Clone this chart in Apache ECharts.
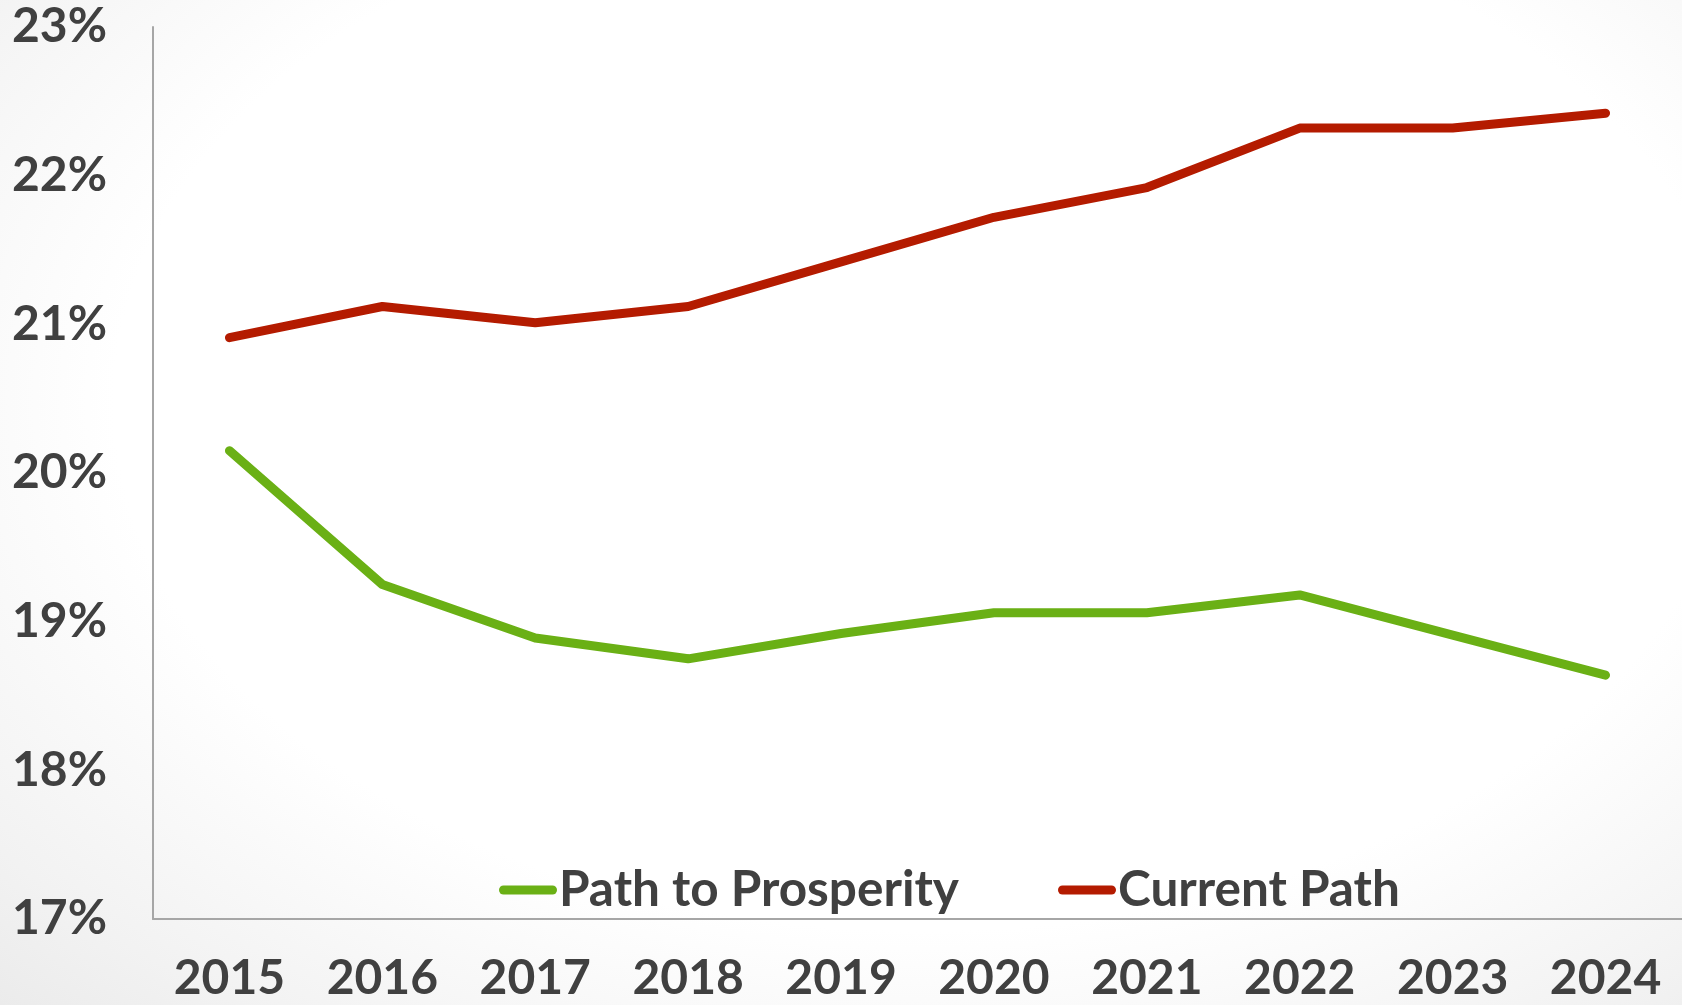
<!DOCTYPE html>
<html>
<head>
<meta charset="utf-8">
<script src="https://cdn.jsdelivr.net/npm/echarts@6/dist/echarts.min.js"></script>
<style>
  html, body { margin: 0; padding: 0; }
  body {
    width: 1682px; height: 1005px;
    background: radial-gradient(ellipse at 55% 40%, #ffffff 62%, #f2f2f2 88%, #ebebeb 100%);
  }
  #chart { width: 1682px; height: 1005px; }
</style>
</head>
<body>
<div id="chart"></div>
<script>
var years = ['2015', '2016', '2017', '2018', '2019', '2020', '2021', '2022', '2023', '2024'];
var prosperity = [20.15, 19.25, 18.89, 18.75, 18.92, 19.06, 19.06, 19.18, 18.91, 18.64];
var currentPath = [20.91, 21.12, 21.01, 21.12, 21.42, 21.72, 21.92, 22.32, 22.32, 22.42];

var textColor = '#404040';
var fontFamily = 'Lato, "DejaVu Sans", sans-serif';

var chart = echarts.init(document.getElementById('chart'));
chart.setOption({
  backgroundColor: 'transparent',
  animation: false,
  grid: {
    left: 153,
    right: 0,
    top: 27,
    bottom: 86
  },
  legend: {
    left: 494,
    top: 860,
    itemWidth: 58,
    itemHeight: 9,
    itemGap: 99,
    icon: 'path://M4.5,0 L53.5,0 A4.5,4.5 0 0 1 53.5,9 L4.5,9 A4.5,4.5 0 0 1 4.5,0 Z',
    textStyle: {
      color: textColor,
      fontFamily: fontFamily,
      fontWeight: 'bold',
      fontSize: 49.5,
      padding: [0, 0, 0, -3]
    },
    data: ['Path to Prosperity', 'Current Path']
  },
  xAxis: {
    type: 'category',
    data: years,
    boundaryGap: true,
    axisTick: { show: false },
    axisLine: { lineStyle: { color: '#a6a6a6', width: 2 } },
    axisLabel: {
      margin: 36,
      color: textColor,
      fontFamily: fontFamily,
      fontWeight: 'bold',
      fontSize: 48
    }
  },
  yAxis: {
    type: 'value',
    min: 17,
    max: 23,
    interval: 1,
    splitLine: { show: false },
    axisTick: { show: false },
    axisLine: { show: true, lineStyle: { color: '#a6a6a6', width: 2 } },
    axisLabel: {
      margin: 46,
      formatter: '{value}%',
      color: textColor,
      fontFamily: fontFamily,
      fontWeight: 'bold',
      fontSize: 48
    }
  },
  series: [{
    name: 'Path to Prosperity',
    type: 'line',
    data: prosperity,
    showSymbol: false,
    itemStyle: { color: '#6ab015' },
    lineStyle: { color: '#6ab015', width: 9, cap: 'round', join: 'round' }
  }, {
    name: 'Current Path',
    type: 'line',
    data: currentPath,
    showSymbol: false,
    itemStyle: { color: '#b41b00' },
    lineStyle: { color: '#b41b00', width: 9, cap: 'round', join: 'round' }
  }]
});
</script>
</body>
</html>
